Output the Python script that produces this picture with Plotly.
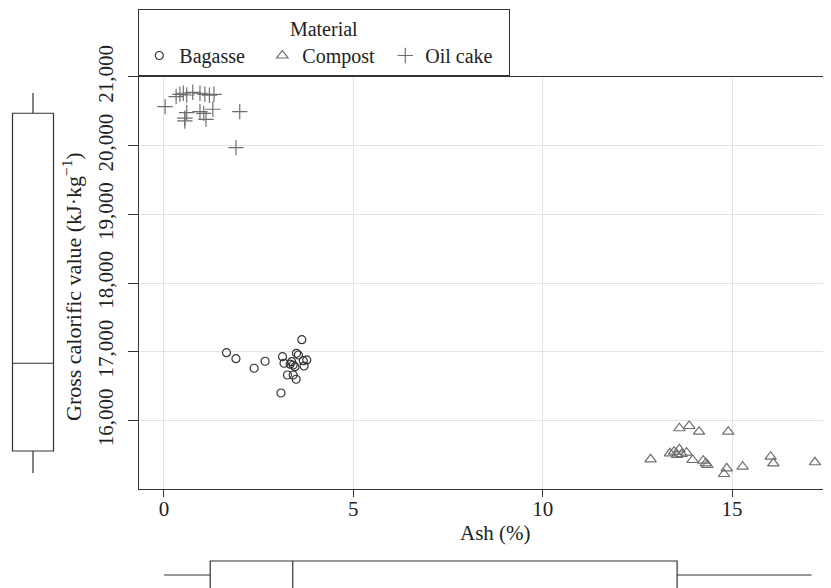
import plotly.graph_objects as go

# The page body has an 8 px margin, so the figure is sized to fit the window
# and all layout positions below are given in window pixels minus that offset.
OFF = 8
WIN_W, WIN_H = 831, 588
W, H = WIN_W - OFF, WIN_H - OFF
FONT = "Liberation Serif"
FS = 21
LFS = 20

# ---- data ----
bagasse_ash = [1.65, 1.90, 2.38, 2.67, 3.13, 3.17, 3.09, 3.64, 3.50, 3.55, 3.37, 3.41, 3.46, 3.68, 3.77, 3.70, 3.26, 3.41, 3.49, 3.33]
bagasse_gcv = [16987, 16900, 16760, 16862, 16929, 16833, 16400, 17176, 16978, 16953, 16856, 16808, 16783, 16870, 16881, 16793, 16662, 16662, 16600, 16820]

compost_ash = [13.61, 13.87, 14.13, 14.90, 12.85, 13.36, 13.47, 13.61, 13.67, 13.80, 13.55, 13.96, 14.24, 14.31, 14.35, 14.86, 14.79, 15.28, 16.02, 16.09, 17.19]
compost_gcv = [15887, 15920, 15837, 15837, 15435, 15522, 15546, 15581, 15512, 15531, 15500, 15425, 15415, 15377, 15352, 15304, 15221, 15328, 15474, 15377, 15392]

oilcake_ash = [0.03, 0.32, 0.42, 0.51, 0.60, 0.76, 0.95, 1.08, 1.20, 1.32, 0.60, 0.95, 1.05, 1.29, 0.55, 0.55, 1.11, 2.00, 1.90]
oilcake_gcv = [20568, 20714, 20748, 20763, 20738, 20777, 20763, 20748, 20734, 20748, 20481, 20495, 20470, 20530, 20400, 20360, 20384, 20495, 19971]

x_ticks = [0, 5, 10, 15]
y_ticks = [16000, 17000, 18000, 19000, 20000, 21000]

# marginal box plot statistics
gcv_box_stats = [15236, 15556, 16833, 20472, 20767]   # lowerfence, q1, median, q3, upperfence
ash_box_stats = [0.0, 1.22, 3.40, 13.55, 17.10]

# ---- layout helpers (window pixel -> paper) ----
def px(xp):
    return (xp - OFF) / W

def py(yp):
    return 1 - (yp - OFF) / H

fig = go.Figure()

fig.add_trace(go.Scatter(
    x=bagasse_ash, y=bagasse_gcv, mode="markers", name="Bagasse",
    marker=dict(symbol="circle-open", size=8, color="#333333", line=dict(width=1.2, color="#333333")),
))
fig.add_trace(go.Scatter(
    x=compost_ash, y=compost_gcv, mode="markers", name="Compost",
    marker=dict(symbol="triangle-up-open", size=10, color="#6e6e6e", line=dict(width=1.2, color="#6e6e6e")),
))
fig.add_trace(go.Scatter(
    x=oilcake_ash, y=oilcake_gcv, mode="markers", name="Oil cake",
    marker=dict(symbol="cross-thin-open", size=11, color="#6e6e6e", line=dict(width=1.2, color="#6e6e6e")),
))

# left marginal box (GCV)
fig.add_trace(go.Box(
    x=[0], orientation="v",
    lowerfence=[gcv_box_stats[0]], q1=[gcv_box_stats[1]], median=[gcv_box_stats[2]],
    q3=[gcv_box_stats[3]], upperfence=[gcv_box_stats[4]],
    width=41, whiskerwidth=0, fillcolor="rgba(0,0,0,0)",
    line=dict(color="#333333", width=1.2),
    xaxis="x2", yaxis="y2", showlegend=False, hoverinfo="skip",
))
# bottom marginal box (Ash)
fig.add_trace(go.Box(
    y=[0], orientation="h",
    lowerfence=[ash_box_stats[0]], q1=[ash_box_stats[1]], median=[ash_box_stats[2]],
    q3=[ash_box_stats[3]], upperfence=[ash_box_stats[4]],
    width=28, whiskerwidth=0, fillcolor="rgba(0,0,0,0)",
    line=dict(color="#333333", width=1.2),
    xaxis="x3", yaxis="y3", showlegend=False, hoverinfo="skip",
))

x_range = [-0.66, 17.614]
y_range = [15010, 21007]
main_x_dom = [px(139), 1.0]
main_y_dom = [py(488.5), py(76.5)]

axis_common = dict(
    showline=True, linecolor="#333333", linewidth=1.3,
    ticks="outside", tickcolor="#333333", tickwidth=1.3,
    gridcolor="#e3e3e3", gridwidth=1, zeroline=False,
    tickfont=dict(family=FONT, size=FS, color="#222222"),
)

fig.update_layout(
    width=W, height=H, autosize=False,
    margin=dict(l=0, r=0, t=0, b=0, autoexpand=False),
    paper_bgcolor="white", plot_bgcolor="white",
    font=dict(family=FONT, size=FS, color="#222222"),
    xaxis=dict(domain=main_x_dom, range=x_range, tickvals=x_ticks, ticklen=7,
               ticklabelstandoff=-6, mirror=True, anchor="y", **axis_common),
    yaxis=dict(domain=main_y_dom, range=y_range, tickvals=y_ticks, ticklen=10,
               tickformat=",d", tickangle=-90, ticklabelstandoff=6,
               anchor="x", **axis_common),
    xaxis2=dict(domain=[0, px(66)], range=[-25, 33], visible=False, anchor="y2"),
    yaxis2=dict(domain=main_y_dom, range=y_range, visible=False, anchor="x2"),
    xaxis3=dict(domain=main_x_dom, range=x_range, visible=False, anchor="y3"),
    yaxis3=dict(domain=[0, 35.3 / H], range=[-13, 22.3], visible=False, anchor="x3"),
    legend=dict(
        x=px(138), y=py(8.7), xanchor="left", yanchor="top",
        orientation="h", bgcolor="white",
        bordercolor="#333333", borderwidth=1.3,
        title=dict(text="Material", side="top center", font=dict(family=FONT, size=LFS, color="#222222")),
        font=dict(family=FONT, size=LFS, color="#222222"),
        entrywidth=78, entrywidthmode="pixels",
        itemsizing="trace",
    ),
    annotations=[
        dict(text="Ash (%)", x=px(495), y=py(533), xref="paper", yref="paper",
             showarrow=False, xanchor="center", yanchor="middle",
             font=dict(family=FONT, size=FS, color="#222222")),
        dict(text="Gross calorific value (kJ·kg<sup>−1</sup>)", x=px(72), y=py(287),
             xref="paper", yref="paper", showarrow=False, textangle=-90,
             xanchor="center", yanchor="middle",
             font=dict(family=FONT, size=22, color="#222222")),
    ],
)

fig.write_html("out.html")
